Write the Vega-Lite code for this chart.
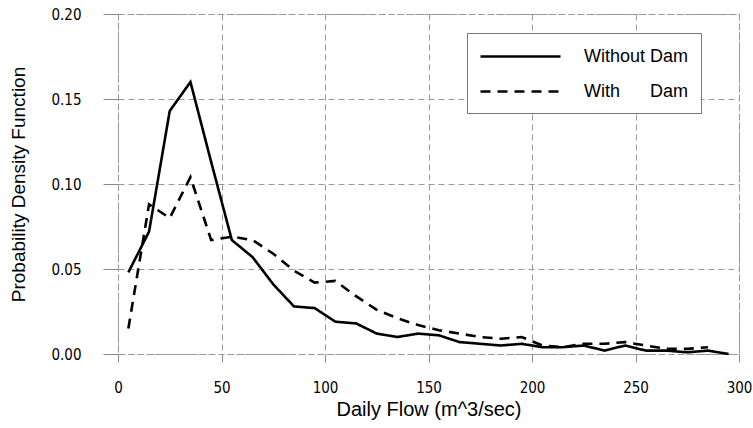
{
  "$schema": "https://vega.github.io/schema/vega-lite/v6.json",
  "width": 621,
  "height": 340,
  "autosize": "none",
  "padding": {"left": 118, "top": 14, "right": 14, "bottom": 74},
  "background": "white",
  "config": {
    "font": "Liberation Sans",
    "view": {"stroke": "#999", "strokeDash": [6, 3], "strokeWidth": 1}
  },
  "data": {
    "values": [
      {"flow": 5, "pdf": 0.048, "series": "Without Dam"},
      {"flow": 15, "pdf": 0.072, "series": "Without Dam"},
      {"flow": 25, "pdf": 0.143, "series": "Without Dam"},
      {"flow": 35, "pdf": 0.160, "series": "Without Dam"},
      {"flow": 45, "pdf": 0.113, "series": "Without Dam"},
      {"flow": 55, "pdf": 0.067, "series": "Without Dam"},
      {"flow": 65, "pdf": 0.057, "series": "Without Dam"},
      {"flow": 75, "pdf": 0.041, "series": "Without Dam"},
      {"flow": 85, "pdf": 0.028, "series": "Without Dam"},
      {"flow": 95, "pdf": 0.027, "series": "Without Dam"},
      {"flow": 105, "pdf": 0.019, "series": "Without Dam"},
      {"flow": 115, "pdf": 0.018, "series": "Without Dam"},
      {"flow": 125, "pdf": 0.012, "series": "Without Dam"},
      {"flow": 135, "pdf": 0.010, "series": "Without Dam"},
      {"flow": 145, "pdf": 0.012, "series": "Without Dam"},
      {"flow": 155, "pdf": 0.011, "series": "Without Dam"},
      {"flow": 165, "pdf": 0.007, "series": "Without Dam"},
      {"flow": 175, "pdf": 0.006, "series": "Without Dam"},
      {"flow": 185, "pdf": 0.005, "series": "Without Dam"},
      {"flow": 195, "pdf": 0.006, "series": "Without Dam"},
      {"flow": 205, "pdf": 0.004, "series": "Without Dam"},
      {"flow": 215, "pdf": 0.004, "series": "Without Dam"},
      {"flow": 225, "pdf": 0.005, "series": "Without Dam"},
      {"flow": 235, "pdf": 0.002, "series": "Without Dam"},
      {"flow": 245, "pdf": 0.005, "series": "Without Dam"},
      {"flow": 255, "pdf": 0.002, "series": "Without Dam"},
      {"flow": 265, "pdf": 0.002, "series": "Without Dam"},
      {"flow": 275, "pdf": 0.001, "series": "Without Dam"},
      {"flow": 285, "pdf": 0.002, "series": "Without Dam"},
      {"flow": 295, "pdf": 0.000, "series": "Without Dam"},
      {"flow": 5, "pdf": 0.015, "series": "With Dam"},
      {"flow": 15, "pdf": 0.088, "series": "With Dam"},
      {"flow": 25, "pdf": 0.080, "series": "With Dam"},
      {"flow": 35, "pdf": 0.104, "series": "With Dam"},
      {"flow": 45, "pdf": 0.067, "series": "With Dam"},
      {"flow": 55, "pdf": 0.069, "series": "With Dam"},
      {"flow": 65, "pdf": 0.067, "series": "With Dam"},
      {"flow": 75, "pdf": 0.059, "series": "With Dam"},
      {"flow": 85, "pdf": 0.049, "series": "With Dam"},
      {"flow": 95, "pdf": 0.042, "series": "With Dam"},
      {"flow": 105, "pdf": 0.043, "series": "With Dam"},
      {"flow": 115, "pdf": 0.034, "series": "With Dam"},
      {"flow": 125, "pdf": 0.026, "series": "With Dam"},
      {"flow": 135, "pdf": 0.021, "series": "With Dam"},
      {"flow": 145, "pdf": 0.017, "series": "With Dam"},
      {"flow": 155, "pdf": 0.014, "series": "With Dam"},
      {"flow": 165, "pdf": 0.012, "series": "With Dam"},
      {"flow": 175, "pdf": 0.010, "series": "With Dam"},
      {"flow": 185, "pdf": 0.009, "series": "With Dam"},
      {"flow": 195, "pdf": 0.010, "series": "With Dam"},
      {"flow": 205, "pdf": 0.005, "series": "With Dam"},
      {"flow": 215, "pdf": 0.004, "series": "With Dam"},
      {"flow": 225, "pdf": 0.006, "series": "With Dam"},
      {"flow": 235, "pdf": 0.006, "series": "With Dam"},
      {"flow": 245, "pdf": 0.007, "series": "With Dam"},
      {"flow": 255, "pdf": 0.005, "series": "With Dam"},
      {"flow": 265, "pdf": 0.003, "series": "With Dam"},
      {"flow": 275, "pdf": 0.003, "series": "With Dam"},
      {"flow": 285, "pdf": 0.004, "series": "With Dam"}
    ]
  },
  "mark": {"type": "line", "color": "black", "strokeWidth": 2.6},
  "encoding": {
    "x": {
      "field": "flow",
      "type": "quantitative",
      "scale": {"domain": [0, 300], "nice": false, "zero": false},
      "axis": {
        "title": "Daily Flow (m^3/sec)",
        "titleFont": "Liberation Sans",
        "titleFontSize": 20,
        "titleFontWeight": "normal",
        "titleColor": "black",
        "titlePadding": 4,
        "values": [0, 50, 100, 150, 200, 250, 300],
        "labelFont": "Liberation Sans Narrow, DejaVu Sans Condensed, Liberation Sans",
        "labelFontSize": 15,
        "labelColor": "black",
        "labelPadding": 18,
        "labelFlush": false,
        "labelOverlap": false,
        "ticks": true,
        "tickSize": 8,
        "tickColor": "#888",
        "domain": false,
        "grid": true,
        "gridColor": "#999",
        "gridDash": [6, 4],
        "gridWidth": 1
      }
    },
    "y": {
      "field": "pdf",
      "type": "quantitative",
      "scale": {"domain": [0, 0.2], "nice": false},
      "axis": {
        "title": "Probability Density Function",
        "titleFont": "Liberation Sans",
        "titleFontSize": 19,
        "titleFontWeight": "normal",
        "titleColor": "black",
        "titlePadding": 22,
        "values": [0, 0.05, 0.1, 0.15, 0.2],
        "format": ".2f",
        "labelFont": "Liberation Sans Narrow, DejaVu Sans Condensed, Liberation Sans",
        "labelFontSize": 15,
        "labelColor": "black",
        "labelPadding": 22,
        "labelFlush": false,
        "tickSize": 15,
        "tickColor": "#888",
        "domain": false,
        "grid": true,
        "gridColor": "#999",
        "gridDash": [6, 4],
        "gridWidth": 1
      }
    },
    "strokeDash": {
      "field": "series",
      "type": "nominal",
      "scale": {"domain": ["Without Dam", "With Dam"], "range": [[1, 0], [10, 7]]},
      "legend": {
        "title": null,
        "orient": "none",
        "legendX": 349,
        "legendY": 19,
        "symbolType": "M -1 0 H 7",
        "symbolSize": 400,
        "symbolStrokeWidth": 2.6,
        "symbolStrokeColor": "black",
        "symbolFillColor": "transparent",
        "labelFontSize": 18,
        "labelColor": "black",
        "labelOffset": 82,
        "labelExpr": "datum.label == 'With Dam' ? 'With\u00a0\u00a0\u00a0\u00a0\u00a0\u00a0Dam' : datum.label",
        "rowPadding": 14,
        "strokeColor": "#777",
        "fillColor": "white",
        "padding": 12
      }
    }
  }
}
